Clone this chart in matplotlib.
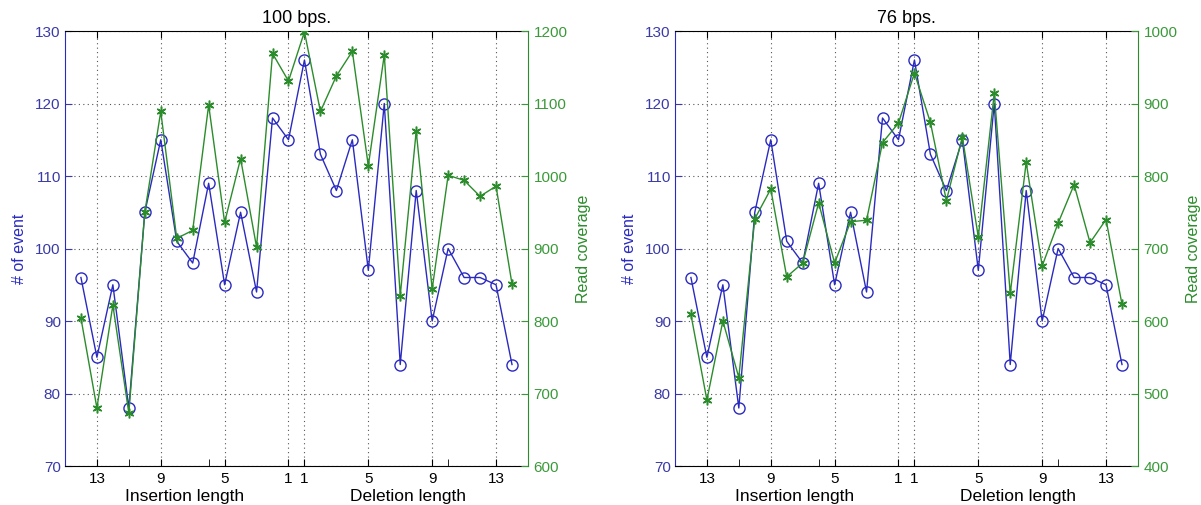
import matplotlib
matplotlib.use("Agg")
import matplotlib.pyplot as plt
from matplotlib.transforms import blended_transform_factory

plt.rcParams["font.family"] = ["Liberation Sans", "DejaVu Sans"]

# insertion lengths drawn left (14 .. 1), deletion lengths right (1 .. 14)
ins_len = [14, 13, 12, 11, 10, 9, 8, 7, 6, 5, 4, 3, 2, 1]
del_len = [1, 2, 3, 4, 5, 6, 7, 8, 9, 10, 11, 12, 13, 14]

# number of events (same for both read lengths)
ins_events = [96, 85, 95, 78, 105, 115, 101, 98, 109, 95, 105, 94, 118, 115]
del_events = [126, 113, 108, 115, 97, 120, 84, 108, 90, 100, 96, 96, 95, 84]

# read coverage, 100 bps
ins_cov_100 = [804, 680, 822, 673, 950, 1089, 914, 925, 1098, 936, 1024, 902, 1169, 1131]
del_cov_100 = [1199, 1089, 1138, 1172, 1014, 1167, 835, 1062, 844, 1001, 994, 972, 986, 851]

# read coverage, 76 bps
ins_cov_76 = [609, 491, 600, 522, 741, 782, 661, 680, 763, 680, 737, 739, 846, 873]
del_cov_76 = [942, 874, 766, 854, 716, 914, 638, 819, 676, 735, 788, 708, 740, 623]

tick_ins = [13, 9, 5, 1]
tick_del = [1, 5, 9, 13]
minor_ins = [11, 6]
minor_del = [10]

BLUE = "#2a2ac0"
BLUE_TXT = "#3a3aa8"
GREEN = "#2b8c2b"
GREEN_TXT = "#3a9a3a"


def ins_x(v):
    return [-i for i in v]


def del_x(v):
    return [d - 1 for d in v]


def panel(fig, rect, title, ins_cov, del_cov, cov_lim):
    ax = fig.add_axes(rect)
    ax2 = ax.twinx()

    xs = ins_x(ins_len) + del_x(del_len)
    ax.plot(xs, ins_events + del_events, color=BLUE, lw=1.0, marker="o",
            mfc="none", mec=BLUE, ms=8, mew=1.0)
    # matlab style asterisk: six thin strokes
    ax2.plot(xs, ins_cov + del_cov, color=GREEN, lw=1.0, marker=(6, 2, 0),
             mec=GREEN, ms=7, mew=1.1)

    ax.set_xlim(-15, 14)
    ax.set_ylim(70, 130)
    ax.set_yticks(range(70, 131, 10))
    ax2.set_ylim(*cov_lim)
    ax2.set_yticks(range(cov_lim[0], cov_lim[1] + 1, 100))

    major = ins_x(tick_ins) + del_x(tick_del)
    ax.set_xticks(major)
    ax.set_xticklabels([str(v) for v in tick_ins + tick_del])
    ax.set_xticks(ins_x(minor_ins) + del_x(minor_del), minor=True)

    ax.grid(True, which="major", ls=(0, (1, 3)), color="#555555", lw=0.8)
    ax.tick_params(axis="x", which="major", direction="in", top=True,
                   length=5, labelsize=11, pad=4)
    ax.tick_params(axis="x", which="minor", direction="in", top=False,
                   bottom=True, length=5)
    ax.tick_params(axis="y", direction="in", length=5, colors=BLUE_TXT,
                   labelsize=11, pad=3)
    ax2.tick_params(axis="y", direction="in", length=5, colors=GREEN_TXT,
                    labelsize=11, pad=4)

    ax.spines["left"].set_color(BLUE)
    ax.spines["right"].set_visible(False)
    ax2.spines["left"].set_visible(False)
    ax2.spines["top"].set_visible(False)
    ax2.spines["bottom"].set_visible(False)
    ax2.spines["right"].set_color(GREEN)

    ax.set_ylabel("# of event", color=BLUE, fontsize=11.5, labelpad=6)
    ax2.set_ylabel("Read coverage", color=GREEN, fontsize=11.5, labelpad=6)
    ax.set_title(title, fontsize=13, pad=6)

    tr = blended_transform_factory(ax.transData, ax.transAxes)
    ax.text(-7.5, -0.052, "Insertion length", transform=tr, ha="center",
            va="top", fontsize=12.5)
    ax.text(6.5, -0.052, "Deletion length", transform=tr, ha="center",
            va="top", fontsize=12.5)


fig = plt.figure(figsize=(12.01, 5.05), dpi=100)
panel(fig, [0.0541, 0.0772, 0.3855, 0.8614], "100 bps.", ins_cov_100, del_cov_100, (600, 1200))
panel(fig, [0.562, 0.0772, 0.3855, 0.8614], "76 bps.", ins_cov_76, del_cov_76, (400, 1000))

fig.savefig("out.png", dpi=100)
